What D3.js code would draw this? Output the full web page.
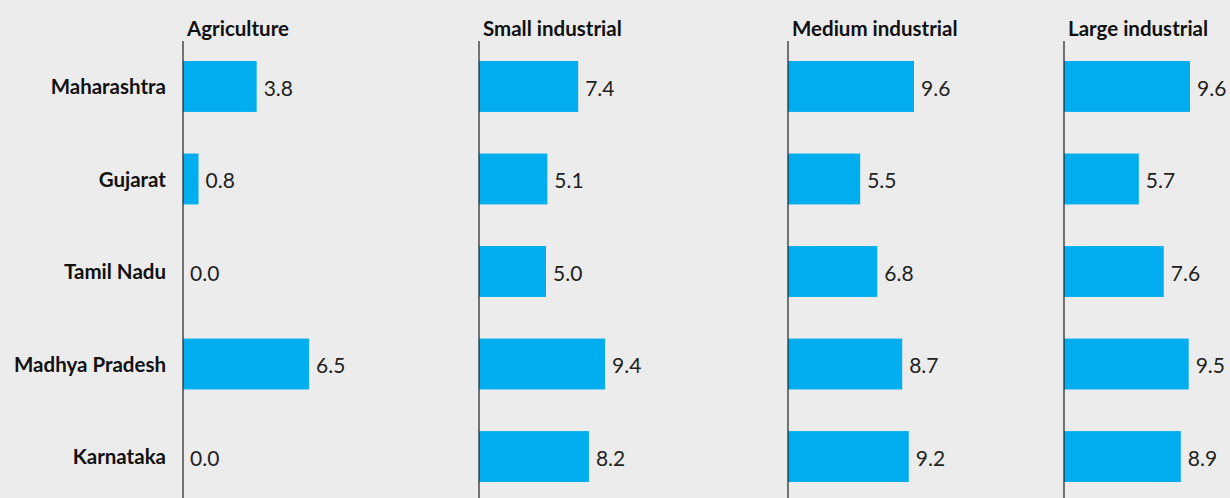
<!DOCTYPE html>
<html>
<head>
<meta charset="utf-8">
<script src="https://cdn.jsdelivr.net/npm/d3@7"></script>
<style>
  html, body { margin: 0; padding: 0; background: #ececec; }
  svg { display: block; }
</style>
</head>
<body>
<script>
// ---- data ----
const categories = ["Maharashtra", "Gujarat", "Tamil Nadu", "Madhya Pradesh", "Karnataka"];
const seriesNames = ["Agriculture", "Small industrial", "Medium industrial", "Large industrial"];
const agriculture = [3.8, 0.8, 0.0, 6.5, 0.0];
const smallIndustrial = [7.4, 5.1, 5.0, 9.4, 8.2];
const mediumIndustrial = [9.6, 5.5, 6.8, 8.7, 9.2];
const largeIndustrial = [9.6, 5.7, 7.6, 9.5, 8.9];

// ---- layout ----
const W = 1230, H = 498;
const panelX = [183, 479, 788, 1064];
const barMaxLen = 126;
const seriesValues = [agriculture, smallIndustrial, mediumIndustrial, largeIndustrial];
const FONT = "Lato, 'Open Sans', sans-serif";

const svg = d3.select("body").append("svg").attr("width", W).attr("height", H);
svg.append("rect").attr("width", W).attr("height", H).attr("fill", "#ececec");

const y = d3.scaleBand().domain(categories).range([40, 503]).paddingInner(0.45).paddingOuter(0.227);

// category labels
svg.append("g").selectAll("text").data(categories).join("text")
  .attr("x", 166)
  .attr("y", d => y(d) + y.bandwidth() / 2)
  .attr("dy", "0.37em")
  .attr("text-anchor", "end")
  .attr("font-family", FONT)
  .attr("font-weight", 700)
  .attr("font-size", 20.5)
  .attr("fill", "#111")
  .text(d => d);

seriesNames.forEach((name, i) => {
  const vals = seriesValues[i];
  const x0 = panelX[i];
  const x = d3.scaleLinear().domain([0, d3.max(vals)]).range([x0, x0 + barMaxLen]);
  const g = svg.append("g");
  const rows = categories.map((c, j) => ({ c, v: vals[j] }));

  g.selectAll("rect").data(rows).join("rect")
    .attr("x", x(0))
    .attr("y", d => y(d.c))
    .attr("width", d => x(d.v) - x(0))
    .attr("height", y.bandwidth())
    .attr("fill", "#00aeef");

  g.selectAll("text.val").data(rows).join("text")
    .attr("class", "val")
    .attr("x", d => x(d.v) + 7)
    .attr("y", d => y(d.c) + y.bandwidth() / 2)
    .attr("dy", "0.45em")
    .attr("font-family", FONT)
    .attr("font-weight", 400)
    .attr("font-size", 21)
    .attr("fill", "#222")
    .text(d => d3.format(".1f")(d.v));

  g.append("line")
    .attr("x1", x(0)).attr("x2", x(0))
    .attr("y1", 41).attr("y2", H)
    .attr("stroke", "#222").attr("stroke-width", 1.2);

  g.append("text")
    .attr("x", x(0) + 4)
    .attr("y", 36)
    .attr("font-family", FONT)
    .attr("font-weight", 700)
    .attr("font-size", 20.5)
    .attr("fill", "#111")
    .text(name);
});
</script>
</body>
</html>
